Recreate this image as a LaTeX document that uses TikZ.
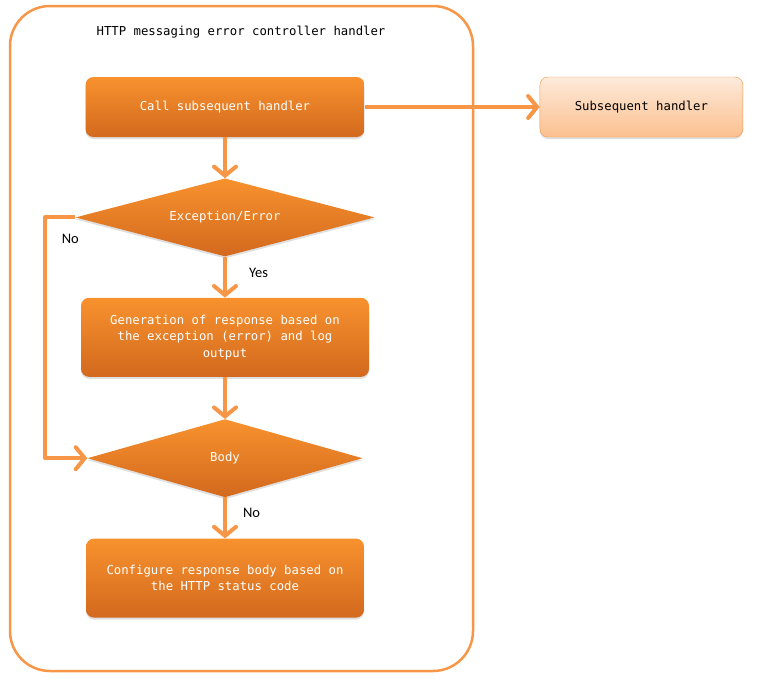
\documentclass[tikz,border=0pt]{standalone}
\usepackage{fontspec}
\setmonofont{DejaVu Sans Mono}
\newfontfamily\yesnofont{Carlito}
\usetikzlibrary{positioning,shapes.geometric,arrows.meta,shadows}
\definecolor{orangeline}{HTML}{F79646}
\definecolor{orangetop}{HTML}{F8922E}
\definecolor{orangebot}{HTML}{D2691E}
\definecolor{peachtop}{HTML}{FDEADB}
\definecolor{peachbot}{HTML}{FBC08F}
\newcommand\monotext{\ttfamily\fontsize{12.3}{16.5}\selectfont}
\tikzset{main node/.style={rectangle,rounded corners=8pt,top color=orangetop,bottom color=orangebot,
            text=white,font=\monotext,align=center,inner sep=0pt,
            drop shadow={shadow xshift=0pt,shadow yshift=-2pt,opacity=0.25}},
         cond node/.style={diamond,aspect=4,top color=orangetop,bottom color=orangebot,text=white,
            font=\monotext,inner sep=0pt,
            drop shadow={shadow xshift=0pt,shadow yshift=-2pt,opacity=0.25}},
         side node/.style={rectangle,rounded corners=8pt,draw=orangeline,thin,top color=peachtop,
            bottom color=peachbot,text=black,font=\monotext,inner sep=0pt,
            drop shadow={shadow xshift=0pt,shadow yshift=-2pt,opacity=0.25}},
         flow/.style={draw=orangeline,line width=4pt,line join=round,
            -{Straight Barb[length=9pt,width=22pt,line cap=round]}},
         answer/.style={font=\yesnofont\fontsize{14.5}{16}\selectfont,inner sep=0pt,text=black},
            }

\begin{document}
\begin{tikzpicture}[x=1pt,y=-1pt]
    \useasboundingbox (0,0) rectangle (758,678);
    \draw[orangeline,line width=2.5pt,rounded corners=40pt] (10,6) rectangle (473,671);
    \node[font=\monotext] (title) at (241,32) {HTTP messaging error controller handler};

    \node[main node,minimum width=279pt,minimum height=60pt] (1) at (225,107) {Call subsequent handler};
    \node[side node,minimum width=203pt,minimum height=60pt] (2) [right = 175pt of 1] {Subsequent handler};
    \node[cond node,minimum width=299pt,minimum height=78pt] (3) [below = 41pt of 1] {Exception/Error};
    \node[main node,minimum width=288pt,minimum height=79pt] (4) [below = 41pt of 3]
        {Generation of response based on\\the exception (error) and log\\output};
    \node[cond node,minimum width=275pt,minimum height=78pt] (5) [below = 42pt of 4] {Body};
    \node[main node,minimum width=278pt,minimum height=79pt] (6) [below = 41pt of 5]
        {Configure response body based on\\the HTTP status code};

    \path[flow]
    (1) edge (2)
    (1) edge (3)
    (3) edge node[answer,right=22pt,yshift=4pt] {Yes} (4)
    (4) edge (5)
    (5) edge node[answer,right=16pt,yshift=5pt] {No} (6);
    \draw[flow] (3.west) -- node[answer,below=15pt,xshift=10pt] {No} ++(-30,0) |- (5.west);
    %%

\end{tikzpicture}
\end{document}
